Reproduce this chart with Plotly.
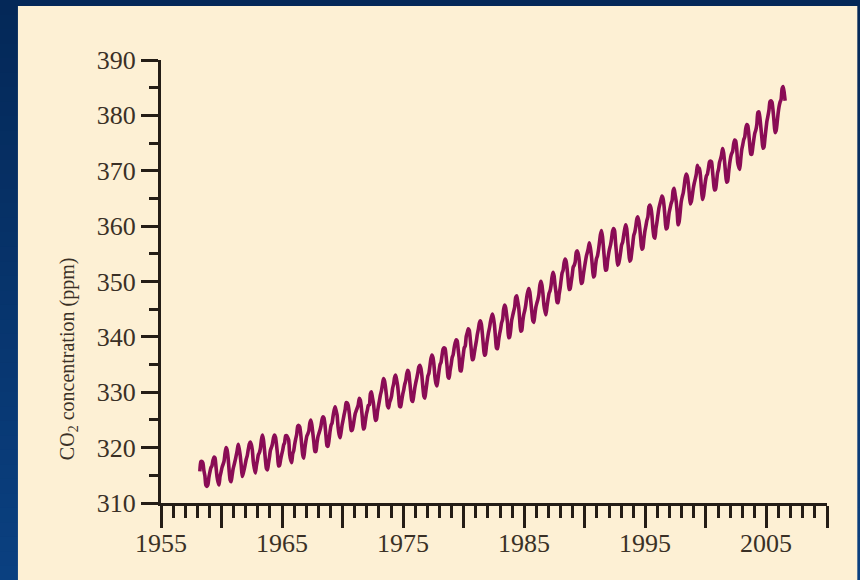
import plotly.graph_objects as go

# Mauna Loa monthly mean CO2 (ppm), March 1958 – July 2006
start_year = 1958
start_month = 3
co2_ppm = [
    # 1958 (Mar-Dec)
    315.71, 317.45, 317.51, 317.24, 315.86, 314.93, 313.19, 313.00, 313.33, 314.67,
    # 1959
    315.62, 316.38, 316.71, 317.72, 318.29, 318.15, 316.54, 314.80, 313.84, 313.26, 314.80, 315.58,
    # 1960
    316.43, 316.97, 317.58, 319.02, 320.03, 319.59, 318.18, 315.91, 314.16, 313.83, 315.00, 316.19,
    # 1961
    316.93, 317.70, 318.54, 319.48, 320.58, 319.77, 318.57, 316.79, 314.80, 315.38, 316.10, 317.01,
    # 1962
    317.94, 318.56, 319.68, 320.63, 321.01, 320.55, 319.58, 317.40, 316.26, 315.42, 316.69, 317.69,
    # 1963
    318.74, 319.08, 319.86, 321.39, 322.25, 321.47, 319.74, 317.77, 316.21, 315.99, 317.12, 318.31,
    # 1964
    319.57, 320.07, 320.73, 321.77, 322.25, 321.89, 320.44, 318.70, 316.70, 316.79, 317.79, 318.71,
    # 1965
    319.44, 320.44, 320.89, 322.13, 322.16, 321.87, 321.39, 318.81, 317.81, 317.30, 318.87, 319.42,
    # 1966
    320.62, 321.59, 322.39, 323.87, 324.01, 323.75, 322.39, 320.37, 318.64, 318.10, 319.79, 321.08,
    # 1967
    322.07, 322.50, 323.04, 324.42, 325.00, 324.09, 322.55, 320.92, 319.31, 319.31, 320.72, 321.96,
    # 1968
    322.57, 323.15, 323.89, 325.02, 325.57, 325.36, 324.14, 322.11, 320.33, 320.25, 321.32, 322.90,
    # 1969
    324.00, 324.42, 325.64, 326.66, 327.38, 326.70, 325.89, 323.67, 322.38, 321.78, 322.85, 324.12,
    # 1970
    325.03, 325.99, 326.87, 328.13, 328.07, 327.66, 326.35, 324.69, 323.10, 323.16, 323.98, 325.13,
    # 1971
    326.17, 326.68, 327.18, 327.78, 328.92, 328.57, 327.34, 325.46, 323.36, 323.57, 324.80, 326.01,
    # 1972
    326.77, 327.63, 327.75, 329.72, 330.07, 329.09, 328.05, 326.32, 324.93, 325.06, 326.50, 327.55,
    # 1973
    328.54, 329.56, 330.30, 331.50, 332.48, 332.07, 330.87, 329.31, 327.51, 327.18, 328.16, 328.64,
    # 1974
    329.35, 330.71, 331.48, 332.65, 333.09, 332.25, 331.18, 329.40, 327.43, 327.37, 328.46, 329.57,
    # 1975
    330.40, 331.40, 332.04, 333.31, 333.96, 333.59, 331.91, 330.06, 328.56, 328.34, 329.49, 330.76,
    # 1976
    331.75, 332.56, 333.50, 334.58, 334.87, 334.34, 333.05, 330.94, 329.30, 328.94, 330.31, 331.68,
    # 1977
    332.93, 333.42, 334.70, 336.07, 336.74, 336.27, 334.93, 332.75, 331.58, 331.16, 332.40, 333.85,
    # 1978
    334.97, 335.39, 336.64, 337.76, 338.01, 337.89, 336.54, 334.68, 332.76, 332.54, 333.92, 334.95,
    # 1979
    336.23, 336.76, 337.96, 338.89, 339.47, 339.29, 337.73, 336.09, 333.91, 333.86, 335.29, 336.73,
    # 1980
    338.01, 338.36, 340.08, 340.77, 341.46, 341.17, 339.56, 337.60, 335.88, 336.01, 337.10, 338.21,
    # 1981
    339.23, 340.47, 341.38, 342.51, 342.91, 342.25, 340.49, 338.43, 336.69, 336.85, 338.36, 339.61,
    # 1982
    340.75, 341.61, 342.70, 343.56, 344.13, 343.35, 342.06, 339.82, 337.97, 337.86, 339.26, 340.49,
    # 1983
    341.38, 342.52, 343.10, 344.94, 345.75, 345.32, 343.99, 342.39, 339.86, 339.99, 341.16, 342.99,
    # 1984
    343.82, 344.63, 345.40, 347.13, 347.42, 346.43, 345.31, 343.01, 341.03, 341.17, 342.81, 344.04,
    # 1985
    344.79, 345.82, 347.25, 348.17, 348.74, 348.07, 346.38, 344.51, 342.92, 342.62, 344.06, 345.38,
    # 1986
    346.11, 346.78, 347.68, 349.37, 350.03, 349.37, 347.76, 345.73, 344.68, 343.99, 345.48, 346.72,
    # 1987
    347.84, 348.29, 349.23, 350.80, 351.66, 351.07, 349.33, 347.92, 346.27, 346.18, 347.64, 348.78,
    # 1988
    350.25, 351.54, 352.05, 353.41, 354.04, 353.62, 352.22, 350.27, 348.55, 348.72, 349.91, 351.18,
    # 1989
    352.60, 352.92, 353.53, 355.26, 355.52, 354.97, 353.75, 351.52, 349.64, 349.83, 351.14, 352.37,
    # 1990
    353.50, 354.55, 355.23, 356.04, 357.00, 356.07, 354.67, 352.76, 350.82, 351.04, 352.69, 354.07,
    # 1991
    354.59, 355.63, 357.03, 358.48, 359.22, 358.12, 356.06, 353.92, 352.05, 352.11, 353.64, 354.89,
    # 1992
    355.88, 356.63, 357.72, 359.07, 359.58, 359.17, 356.94, 354.92, 352.94, 353.23, 354.09, 355.33,
    # 1993
    356.63, 357.10, 358.32, 359.41, 360.23, 359.55, 357.53, 355.48, 353.67, 353.95, 355.30, 356.78,
    # 1994
    358.34, 358.89, 359.95, 361.25, 361.67, 360.94, 359.55, 357.49, 355.84, 356.00, 357.59, 359.05,
    # 1995
    359.98, 361.03, 361.66, 363.48, 363.82, 363.30, 361.94, 359.50, 358.11, 357.80, 359.61, 360.74,
    # 1996
    362.09, 363.29, 364.06, 364.76, 365.45, 365.01, 363.70, 361.54, 359.51, 359.65, 360.80, 362.38,
    # 1997
    363.23, 364.06, 364.61, 366.40, 366.84, 365.68, 364.52, 362.57, 360.24, 360.83, 362.49, 364.34,
    # 1998
    365.27, 365.98, 367.24, 368.66, 369.42, 368.99, 367.82, 365.95, 364.02, 364.40, 365.52, 366.83,
    # 1999
    367.79, 368.53, 369.39, 371.00, 370.35, 370.47, 369.28, 366.91, 364.81, 365.37, 366.72, 368.10,
    # 2000
    369.08, 369.40, 370.45, 371.59, 371.75, 371.62, 370.04, 368.04, 366.54, 366.63, 367.90, 369.55,
    # 2001
    370.28, 371.50, 372.12, 372.87, 374.02, 373.30, 371.62, 369.55, 367.96, 368.09, 369.68, 371.24,
    # 2002
    372.43, 373.09, 373.52, 374.86, 375.55, 375.41, 374.02, 371.49, 370.71, 370.25, 372.08, 373.78,
    # 2003
    374.68, 375.63, 376.11, 377.65, 378.35, 378.13, 376.62, 374.50, 372.99, 373.01, 374.35, 375.70,
    # 2004
    376.79, 377.37, 378.41, 380.52, 380.63, 379.57, 377.79, 375.86, 374.06, 374.24, 375.86, 377.48,
    # 2005
    378.98, 379.91, 380.95, 382.48, 382.64, 382.40, 380.93, 378.93, 376.89, 377.19, 378.54, 380.31,
    # 2006 (Jan-Jul)
    381.58, 382.40, 382.86, 384.80, 385.22, 384.24, 382.65,
]

# decimal year at mid-month for each sample
dates = [start_year + (start_month - 1 + i + 0.5) / 12.0 for i in range(len(co2_ppm))]

x_tick_years = list(range(1955, 2011, 5))
x_label_years = [1955, 1965, 1975, 1985, 1995, 2005]
x_label_texts = ["1955", "1965", "1975", "1985", "1995", "2005"]
y_tick_values = list(range(310, 391, 10))
y_tick_labels = [str(v) for v in y_tick_values]

# page geometry (pixels)
W, H = 860, 580
L, R, T, B = 161, 826.7, 60, 502.7
pw, ph = R - L, B - T


def px_x(p):
    return (p - L) / pw


def px_y(p):
    return (B - p) / ph


INK = "#241d16"
TEXT = "#3a3026"
CREAM = "#fdf0d4"
LINE = "#8a0c55"

shapes = []
# navy backdrop shading from top to bottom
top_rgb = (4, 40, 88)
bot_rgb = (10, 64, 128)
n_bands = 40
for i in range(n_bands):
    f = i / (n_bands - 1)
    c = tuple(round(top_rgb[k] + (bot_rgb[k] - top_rgb[k]) * f) for k in range(3))
    y0 = H * i / n_bands
    y1 = H * (i + 1) / n_bands + 1
    shapes.append(dict(type="rect", xref="paper", yref="paper", layer="below",
                       x0=px_x(0), x1=px_x(W), y0=px_y(y1), y1=px_y(y0),
                       line=dict(width=0), fillcolor="rgb(%d,%d,%d)" % c))
# cream panel
shapes.append(dict(type="rect", xref="paper", yref="paper", layer="below",
                   x0=px_x(18), x1=px_x(857), y0=px_y(H + 2), y1=px_y(6),
                   line=dict(width=0), fillcolor=CREAM))

fig = go.Figure()
fig.add_trace(go.Scatter(
    x=dates, y=co2_ppm, mode="lines",
    line=dict(color=LINE, width=3.6, shape="spline", smoothing=0.6),
    hoverinfo="x+y", showlegend=False,
))

tick_font = dict(family="Liberation Serif", size=26, color=TEXT)

# year labels under the long ticks
annotations = [
    dict(text=t, x=yr, xref="x", yref="paper", y=px_y(543),
         xanchor="center", yanchor="middle", showarrow=False, font=tick_font)
    for yr, t in zip(x_label_years, x_label_texts)
]
annotations.append(dict(
    text="CO<sub>2</sub> concentration (ppm)",
    xref="paper", yref="paper", x=px_x(68), y=px_y(358),
    xanchor="center", yanchor="middle", textangle=-90, showarrow=False,
    font=dict(family="Liberation Serif", size=20, color=TEXT),
))

fig.update_layout(
    width=W, height=H,
    margin=dict(l=L, r=W - R, t=T, b=H - B, pad=0),
    paper_bgcolor="rgb(4,40,88)",
    plot_bgcolor=CREAM,
    shapes=shapes,
    xaxis=dict(
        range=[1955, 2010], showgrid=False, zeroline=False,
        showline=True, linecolor=INK, linewidth=3,
        ticks="outside", tickvals=x_tick_years, showticklabels=False,
        ticklen=22, tickwidth=3, tickcolor=INK,
        minor=dict(dtick=1, tick0=1955, ticks="outside", ticklen=12,
                   tickwidth=2.6, tickcolor=INK, showgrid=False),
    ),
    yaxis=dict(
        range=[310, 390], showgrid=False, zeroline=False,
        showline=True, linecolor=INK, linewidth=3,
        ticks="outside", tickvals=y_tick_values, ticktext=y_tick_labels,
        ticklen=17, tickwidth=3, tickcolor=INK, tickfont=tick_font,
        minor=dict(dtick=5, tick0=310, ticks="outside", ticklen=9,
                   tickwidth=2.6, tickcolor=INK, showgrid=False),
    ),
    annotations=annotations,
)

fig.write_html("out.html")
